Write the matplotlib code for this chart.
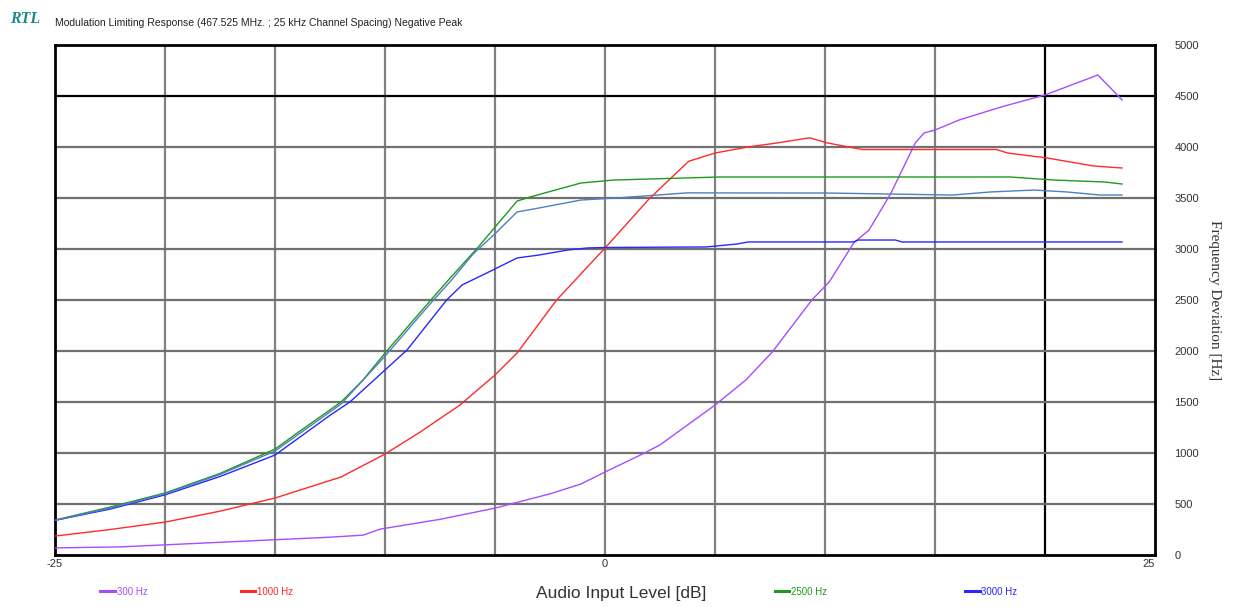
import numpy as np
import matplotlib.pyplot as plt

# audio input level [dB] and frequency deviation [Hz]
x_300 = [-25, -22, -20, -17.5, -15, -12.5, -11, -10.2, -7.5, -5, -2.5, -1.1, 0, 1.7, 2.5, 5,
         6.4, 7.6, 9.4, 10.2, 11.3, 12, 13, 14.1, 14.5, 15, 16.1, 18, 20, 22.4, 23.5]
y_300 = [70, 80, 100, 125, 150, 175, 195, 255, 350, 460, 600, 696, 814, 990, 1080, 1470,
         1716, 1990, 2500, 2680, 3059, 3186, 3549, 4039, 4137, 4167, 4265, 4392, 4510, 4706, 4461]

x_1000 = [-25, -22.5, -20, -17.5, -15, -12, -10, -8.4, -6.6, -5, -4, -2.2, 0, 2, 3.8, 5,
          6.5, 7.8, 9.3, 10.1, 11.7, 17.8, 18.3, 20.1, 22.2, 23.5]
y_1000 = [186, 250, 323, 430, 559, 765, 990, 1206, 1470, 1765, 1980, 2500, 3010, 3490, 3860, 3941,
          4000, 4039, 4090, 4040, 3975, 3975, 3941, 3892, 3814, 3794]

x_2500 = [-25, -22.5, -20, -17.5, -15, -13.9, -12, -11, -10, -8, -7, -5.8, -4, -3.4, -1.1, 0.4,
          5.2, 18.4, 20.4, 22.7, 23.5]
y_2500 = [343, 470, 608, 800, 1039, 1210, 1500, 1716, 1980, 2480, 2725, 3010, 3470, 3510, 3647, 3676,
          3706, 3706, 3676, 3657, 3637]

x_3000 = [-25, -22.5, -20, -17.5, -15, -12.5, -11.6, -10, -9, -7.2, -6.5, -5.1, -4, -3, -1.7, -0.8,
          0, 4.6, 6, 6.5, 11.3, 11.5, 13.2, 13.5, 23.5]
y_3000 = [340, 450, 590, 770, 980, 1370, 1500, 1814, 2010, 2500, 2647, 2794, 2912, 2941, 2990, 3010,
          3015, 3020, 3049, 3069, 3069, 3088, 3088, 3069, 3069]

# fifth trace (not named in the legend)
x_extra = [-25, -22.5, -20, -17.5, -15, -12, -10, -8, -7, -6, -5, -4, -3, -1.1, 0.5, 2.4,
           3.7, 10, 15.8, 17.5, 19.5, 21, 22.5, 23.5]
y_extra = [340, 460, 600, 790, 1020, 1480, 1950, 2450, 2690, 2950, 3150, 3363, 3402, 3480, 3500, 3529,
           3550, 3549, 3529, 3559, 3578, 3559, 3529, 3529]

series = [
    ("300 Hz", x_300, y_300, "#a64dff"),
    ("1000 Hz", x_1000, y_1000, "#ff2a2a"),
    ("2500 Hz", x_2500, y_2500, "#1f9a1f"),
    ("3000 Hz", x_3000, y_3000, "#2828ff"),
]
legend_x = [0.077, 0.19, 0.62, 0.773]

fig = plt.figure(figsize=(12.42, 6.07), dpi=100)
ax = fig.add_axes([0.0443, 0.0856, 0.8857, 0.8403])

# grid
for gx in range(-20, 25, 5):
    if gx == 20:
        ax.axvline(gx, color="black", lw=1.6, zorder=1)
    else:
        ax.axvline(gx, color="#808080", lw=1.6, zorder=1)
for gy in range(500, 5000, 500):
    if gy == 4500:
        ax.axhline(gy, color="black", lw=1.6, zorder=1)
    else:
        ax.axhline(gy, color="#707070", lw=1.6, zorder=1)

handles = []
for name, xs, ys, col in series:
    l, = ax.plot(xs, ys, color=col, lw=1.0, zorder=3, label=name)
    handles.append(l)
ax.plot(x_extra, y_extra, color="#4f7fbf", lw=1.0, zorder=3)

ax.set_xlim(-25, 25)
ax.set_ylim(0, 5000)
for s in ax.spines.values():
    s.set_linewidth(2)
    s.set_color("black")

ax.yaxis.tick_right()
ax.set_yticks(range(0, 5001, 500))
ax.set_yticklabels([str(v) for v in range(0, 5001, 500)], fontsize=8, color="#333333",
                   family="Liberation Sans")
ax.tick_params(axis="y", length=0, pad=14)
ax.set_xticks([-25, 0, 25])
ax.set_xticklabels(["-25", "0", "25"], fontsize=8, color="#333333", family="Liberation Sans")
ax.tick_params(axis="x", length=0, pad=3)
ax.get_xticklabels()[2].set_horizontalalignment("right")

ax.yaxis.set_label_position("right")
ax.set_ylabel("Frequency Deviation [Hz]", rotation=270, family="Liberation Serif",
              fontsize=11, color="#333333", labelpad=16)

fig.text(0.5, 0.022, "Audio Input Level [dB]", ha="center", va="center", fontsize=12.5,
         color="#333333", family="Liberation Sans")
fig.text(0.008, 0.968, "RTL", fontsize=11.5, fontweight="bold", fontstyle="italic",
         family="Liberation Serif", color="#1a8a8a", va="center")
fig.text(0.0443, 0.962, "Modulation Limiting Response (467.525 MHz. ; 25 kHz Channel Spacing) Negative Peak",
         fontsize=7.5, color="#222222", va="center", family="Liberation Sans")

for h, lx in zip(handles, legend_x):
    fig.legend(handles=[h], loc="center left", bbox_to_anchor=(lx, 0.025), frameon=False,
               handlelength=1.5, handletextpad=0.2, labelcolor=h.get_color(),
               borderpad=0, prop={"family": "Liberation Sans", "size": 7})
for lg in fig.legends:
    for ln in lg.get_lines():
        ln.set_linewidth(2.2)

fig.savefig("out.png", dpi=100)
